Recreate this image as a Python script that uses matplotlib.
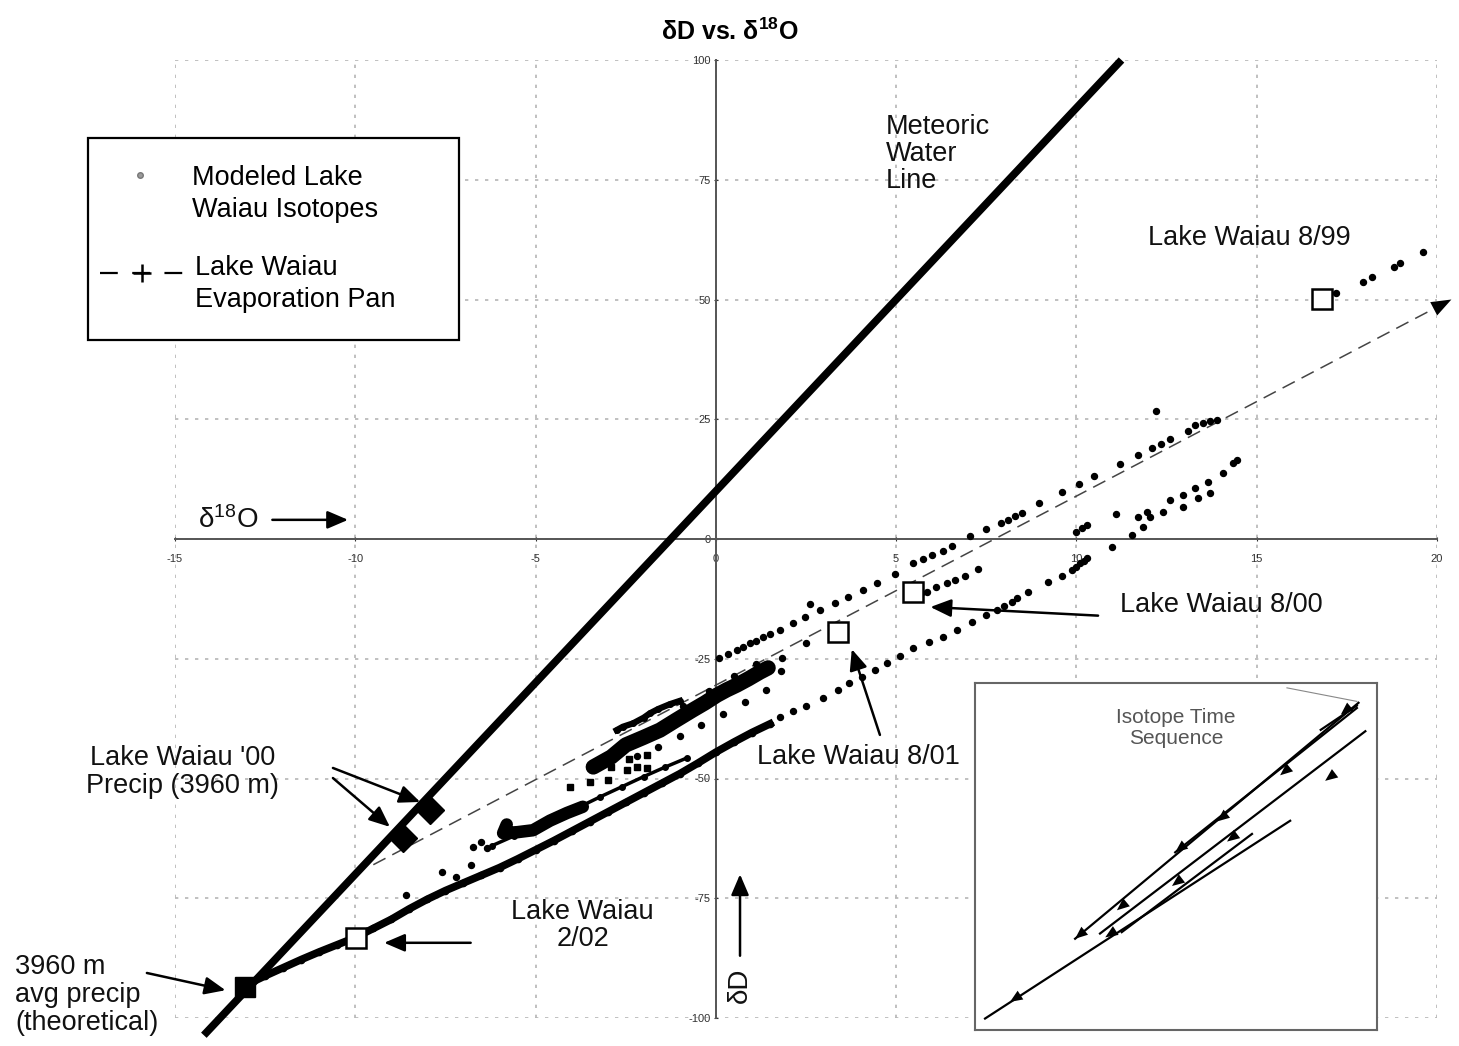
import matplotlib
matplotlib.use('Agg')
import matplotlib.pyplot as plt
from matplotlib.lines import Line2D
from matplotlib.patches import Rectangle

plt.rcParams['font.family'] = ['Liberation Sans', 'DejaVu Sans']
plt.rcParams['mathtext.fontset'] = 'custom'
plt.rcParams['mathtext.rm'] = 'Liberation Sans'
plt.rcParams['mathtext.bf'] = 'Liberation Sans:bold'
plt.rcParams['mathtext.default'] = 'regular'

# ---- data ----
x_ticks = [-15, -10, -5, 0, 5, 10, 15, 20]
y_ticks = [-100, -75, -50, -25, 0, 25, 50, 75, 100]

# meteoric water line (dD = 8 d18O + 10)
mwl_x = [-14.2, 11.25]
mwl_y = [-103.6, 100.0]

# evaporation pan trend
pan_x = [-9.5, 20.4]
pan_y = [-68.0, 50.0]

# modeled lake isotopes - dense lower track
lower_x = [-13.0, -12.5, -12.0, -11.5, -11.0, -10.5, -10.0, -9.5, -9.0, -8.5, -8.0, -7.5,
           -7.0, -6.5, -6.0, -5.5, -5.0, -4.5, -4.0, -3.5, -3.0, -2.5, -2.0, -1.5, -1.0,
           -0.5, 0.0, 0.5, 1.0, 1.5]
lower_y = [-93.0, -91.2, -89.5, -87.8, -86.2, -84.7, -83.2, -81.3, -79.4, -77.2, -75.2, -73.4,
           -71.8, -70.2, -68.6, -66.8, -64.9, -63.0, -61.0, -59.0, -57.0, -55.0, -53.0, -51.0,
           -49.0, -46.8, -44.5, -42.4, -40.4, -38.6]

# dotted row running just above the lower track
lower2_x = [-6.2, -5.6, -5.0, -4.4, -3.8, -3.2, -2.6, -2.0, -1.4, -0.8]
lower2_y = [-64.0, -62.0, -60.3, -58.2, -56.0, -53.8, -51.7, -49.6, -47.6, -45.7]

# sparse continuation of the lower track
tail_x = [1.78, 2.15, 2.5, 2.97, 3.38, 3.7, 4.05, 4.4, 4.75, 5.1, 5.46, 5.9, 6.3, 6.7, 7.1,
          7.5, 7.8, 8.0, 8.2, 8.35, 8.65, 9.2, 9.6, 9.87, 10.0, 10.1, 10.2, 10.3, 11.0,
          11.54, 11.85, 12.04, 12.4, 12.95, 13.37, 13.7,
          11.7, 11.95, 12.6, 12.95, 13.3, 13.65, 14.06, 14.34, 14.45]
tail_y = [-37.2, -36.0, -34.9, -33.2, -31.5, -30.1, -28.8, -27.3, -25.9, -24.4, -22.8, -21.5,
          -20.4, -19.0, -17.3, -15.9, -14.8, -14.0, -13.2, -12.3, -11.0, -9.0, -7.8, -6.5,
          -5.8, -5.0, -4.6, -4.0, -1.7,
          0.8, 2.5, 4.6, 5.6, 6.7, 8.5, 9.6,
          4.6, 5.6, 8.1, 9.2, 10.6, 11.9, 13.8, 15.9, 16.5]

# small group just above the x axis near 10
near10_x = [10.0, 10.15, 10.3, 11.1]
near10_y = [1.5, 2.2, 2.9, 5.2]

# upper track
upper_x = [0.1, 0.35, 0.58, 0.75, 0.94, 1.1, 1.3, 1.5, 1.77, 2.14, 2.47, 2.6, 2.9, 3.3, 3.66,
           4.08, 4.47, 4.97, 5.47, 5.75, 6.0, 6.3, 6.55, 7.05, 7.5, 7.9, 8.1, 8.3, 8.5, 8.96,
           9.6, 10.07, 10.5, 11.2, 11.7, 12.1, 12.2, 12.35, 12.6, 13.1, 13.3, 13.5, 13.7, 13.9]
upper_y = [-24.8, -24.0, -23.2, -22.5, -21.7, -21.2, -20.4, -19.8, -19.0, -17.6, -16.3, -13.6,
           -14.8, -13.4, -12.1, -10.6, -9.2, -7.3, -5.1, -4.2, -3.3, -2.5, -1.5, 0.6, 2.1,
           3.3, 4.0, 4.7, 5.4, 7.5, 9.8, 11.5, 13.2, 15.7, 17.5, 19.0, 26.7, 19.8, 20.9, 22.5,
           23.8, 24.2, 24.6, 24.8]

# short track under the evaporation line
mid_x = [1.83, 2.5, 5.7, 5.85, 6.1, 6.4, 6.63, 6.9, 7.27]
mid_y = [-24.8, -21.7, -11.3, -11.0, -10.0, -9.2, -8.6, -7.7, -6.3]

# 8/99 group
top_x = [17.2, 17.95, 18.2, 18.8, 18.97, 19.6]
top_y = [51.4, 53.7, 54.7, 56.8, 57.6, 59.9]

# scattered dots on the left
left_x = [-8.6, -7.6, -6.8, -6.74, -6.5, -6.35, -7.2]
left_y = [-74.3, -69.5, -68.0, -64.3, -63.2, -64.5, -70.5]

# central dense band
band_x = [-3.4, -2.9, -2.5, -2.0, -1.55, -1.1, -0.64, -0.3, 0.03, 0.3, 0.58, 0.9, 1.22, 1.45]
band_y = [-47.6, -45.5, -43.0, -41.4, -39.9, -37.8, -35.7, -34.2, -32.6, -31.5, -30.5, -29.2,
          -27.8, -26.9]

# loose dots around the band
around_x = [-2.2, -1.6, -1.0, -0.4, 0.2, 0.8, 1.4, 1.8, -0.9, -0.2, 0.5, 1.1]
around_y = [-45.3, -43.4, -41.2, -38.8, -36.5, -34.0, -31.6, -27.5, -34.8, -31.8, -28.6, -26.0]

# streak above the band
streak_x = [-2.75, -2.58, -2.3, -2.0, -1.83, -1.6, -1.28, -1.0]
streak_y = [-39.9, -39.2, -38.5, -37.3, -36.4, -35.5, -34.5, -33.8]

# curved blob further down
blob_x = [-5.8, -5.9, -5.5, -5.07, -4.6, -4.13, -3.69]
blob_y = [-59.6, -61.4, -61.2, -60.8, -58.8, -57.2, -55.9]

# dashes between blob and band
dash_x = [-4.05, -3.5, -3.0, -2.47, -2.2, -1.9, -1.9, -2.9, -2.4]
dash_y = [-51.8, -50.7, -50.3, -48.2, -47.6, -47.8, -45.1, -47.5, -46.0]

# sampled lake values (open squares)
lake_x = [-9.98, 3.38, 5.46, 16.8]
lake_y = [-83.3, -19.4, -11.1, 50.1]

# precipitation points
theo_x = [-13.06]
theo_y = [-93.5]
precip00_x = [-8.68, -7.93]
precip00_y = [-62.4, -56.6]

# inset: isotope time sequence (inset units 0-100)
seq_x = [[2.5, 78.4], [24.9, 95.4], [31.1, 97.1], [49.8, 95.0], [36.5, 68.9], [86.0, 95.0]]
seq_y = [[3.3, 60.3], [26.3, 94.3], [27.8, 86.1], [51.2, 92.8], [28.2, 56.5], [86.5, 93.5]]
seq_arrow_x = [8.7, 32.4, 24.9, 35.3, 75.9, 49.0, 62.7, 87.1, 49.8, 60.2, 91.0]
seq_arrow_y = [8.1, 26.7, 26.3, 34.5, 73.4, 41.5, 54.3, 71.8, 51.2, 60.1, 90.9]
seq_arrow_line = [0, 0, 1, 1, 1, 2, 2, 2, 3, 3, 1]

W, H = 1459, 1046
fig = plt.figure(figsize=(W / 100, H / 100), dpi=100)
ax = fig.add_axes([175 / W, 1 - 1018 / H, 1262 / W, 958 / H])
ax.set_xlim(-15, 20)
ax.set_ylim(-100, 100)

for s in ['top', 'right']:
    ax.spines[s].set_visible(False)
ax.spines['left'].set_position(('data', 0))
ax.spines['bottom'].set_position(('data', 0))
for s in ['left', 'bottom']:
    ax.spines[s].set_color('#555555')
    ax.spines[s].set_linewidth(1.4)
ax.set_xticks(x_ticks)
ax.set_yticks(y_ticks)
ax.set_xticklabels([str(v) for v in x_ticks])
ax.set_yticklabels([str(v) for v in y_ticks])
ax.tick_params(labelsize=8, length=3, width=0.8, colors='#333333', direction='inout')
ax.tick_params(axis='x', pad=9)
ax.tick_params(axis='y', pad=2)
ax.grid(True, color='#b5b5b5', lw=1.2, ls=(0, (2, 4)))
ax.set_axisbelow(True)

# lines
ax.plot(mwl_x, mwl_y, color='black', lw=5.5, solid_capstyle='butt', clip_on=False, zorder=4)
ax.plot(pan_x, pan_y, color='#444444', lw=1.1, dashes=(9, 5), zorder=3)
ax.annotate('', xy=(pan_x[1], pan_y[1]), xytext=(pan_x[0], pan_y[0]),
            arrowprops=dict(arrowstyle='-|>,head_length=0.8,head_width=0.3', lw=0,
                            color='black', mutation_scale=18, shrinkA=0, shrinkB=0),
            annotation_clip=False, zorder=3)

# modeled isotopes
dot = dict(ls='none', marker='o', ms=4.3, color='black', zorder=5)
ax.plot(lower_x, lower_y, '-', color='black', lw=5.5, marker='o', ms=4.5, zorder=5)
ax.plot(lower2_x, lower2_y, '-', color='black', lw=2.5, marker='o', ms=4, zorder=5)
ax.plot(band_x, band_y, '-', color='black', lw=11, solid_capstyle='round', zorder=5)
ax.plot(around_x, around_y, **dot)
ax.plot(blob_x, blob_y, '-', color='black', lw=9, solid_capstyle='round', zorder=5)
ax.plot(streak_x, streak_y, '-', color='black', lw=4.5, marker='o', ms=4, zorder=5)
ax.plot(dash_x, dash_y, ls='none', marker='s', ms=4.5, color='black', zorder=5)
ax.plot(tail_x, tail_y, **dot)
ax.plot(near10_x, near10_y, **dot)
ax.plot(upper_x, upper_y, **dot)
ax.plot(mid_x, mid_y, **dot)
ax.plot(top_x, top_y, **dot)
ax.plot(left_x, left_y, **dot)

# sample points
ax.plot(lake_x, lake_y, 's', ms=15, mfc='white', mec='black', mew=1.8, zorder=7)
ax.plot(theo_x, theo_y, 's', ms=15, color='black', zorder=7)
ax.plot(precip00_x, precip00_y, 'D', ms=14, color='black', zorder=7)

# annotations
txt = dict(fontsize=19.5, color='#111111')
arr = dict(arrowstyle='-|>,head_length=0.7,head_width=0.3', lw=1.8, color='black',
           mutation_scale=18, shrinkA=0, shrinkB=0)
ax.text(4.71, 80.4, 'Meteoric\nWater\nLine', ha='left', va='center', linespacing=1.05, **txt)
ax.text(11.98, 62.8, 'Lake Waiau 8/99', ha='left', va='center', **txt)
ax.text(11.2, -13.8, 'Lake Waiau 8/00', ha='left', va='center', **txt)
ax.annotate('', xy=(5.95, -14.2), xytext=(10.6, -16.0), arrowprops=arr)
ax.text(1.14, -45.5, 'Lake Waiau 8/01', ha='left', va='center', **txt)
ax.annotate('', xy=(3.77, -23.0), xytext=(4.55, -40.9), arrowprops=arr)
ax.text(-3.69, -80.6, 'Lake Waiau\n2/02', ha='center', va='center', linespacing=1.05, **txt)
ax.annotate('', xy=(-9.2, -84.3), xytext=(-6.8, -84.3), arrowprops=arr)
ax.text(-14.78, -48.6, "Lake Waiau '00\nPrecip (3960 m)", ha='center', va='center',
        linespacing=1.1, clip_on=False, **txt)
ax.annotate('', xy=(-8.2, -54.9), xytext=(-10.62, -47.8), arrowprops=arr)
ax.annotate('', xy=(-9.04, -60.1), xytext=(-10.62, -49.9), arrowprops=arr)
ax.text(-19.44, -95.2, '3960 m\navg precip\n(theoretical)', ha='left', va='center',
        linespacing=1.1, clip_on=False, **txt)
ax.annotate('', xy=(-13.6, -94.2), xytext=(-15.78, -90.6), arrowprops=arr,
            annotation_clip=False)
ax.text(-14.36, 4.0, 'δ$^{18}$O', ha='left', va='center', fontsize=20, color='#111111')
ax.annotate('', xy=(-10.2, 4.0), xytext=(-12.3, 4.0), arrowprops=arr)
ax.text(0.67, -93.1, 'δD', ha='center', va='center', rotation=90, fontsize=20, color='#111111')
ax.annotate('', xy=(0.67, -70.0), xytext=(0.67, -87.0), arrowprops=arr)

fig.text(0.5, 1 - 32 / H, 'δD vs. δ$^{\\mathbf{18}}$O', ha='center', va='center',
         fontsize=18, fontweight='bold')

# legend box
fig.add_artist(Rectangle((88 / W, 1 - 340 / H), 371 / W, 202 / H, transform=fig.transFigure,
                         facecolor='white', edgecolor='black', lw=1.6, zorder=10))
fig.add_artist(Line2D([140 / W], [1 - 175 / H], marker='o', ms=4, mfc='#9a9a9a', mec='#777777',
                      transform=fig.transFigure, zorder=11))
fig.text(192 / W, 1 - 194 / H, 'Modeled Lake\nWaiau Isotopes', ha='left', va='center',
         fontsize=19.5, linespacing=1.3, zorder=11)
fig.add_artist(Line2D([100 / W, 185 / W], [1 - 273 / H, 1 - 273 / H], color='black', lw=1.6,
                      dashes=(8, 6.5), transform=fig.transFigure, zorder=11))
fig.add_artist(Line2D([142 / W], [1 - 273 / H], marker='+', ms=13, mew=1.8, color='black',
                      transform=fig.transFigure, zorder=11))
fig.text(195 / W, 1 - 284 / H, 'Lake Waiau\nEvaporation Pan', ha='left', va='center',
         fontsize=19.5, linespacing=1.3, zorder=11)

# inset: isotope time sequence
axi = fig.add_axes([975 / W, 1 - 1030 / H, 402 / W, 347 / H], zorder=12)
axi.set_xlim(0, 100)
axi.set_ylim(0, 100)
axi.set_xticks([])
axi.set_yticks([])
for s in axi.spines.values():
    s.set_color('#666666')
    s.set_linewidth(1.5)
for xs, ys in zip(seq_x, seq_y):
    axi.plot(xs, ys, color='black', lw=1.6)
head = dict(arrowstyle='-|>,head_length=0.6,head_width=0.25', lw=0, color='black',
            mutation_scale=15, shrinkA=0, shrinkB=0)
for ax_, ay_, k in zip(seq_arrow_x, seq_arrow_y, seq_arrow_line):
    dx = seq_x[k][1] - seq_x[k][0]
    dy = seq_y[k][1] - seq_y[k][0]
    axi.annotate('', xy=(ax_, ay_), xytext=(ax_ + 0.05 * dx, ay_ + 0.05 * dy), arrowprops=head)
axi.plot([77.6, 95.0], [98.6, 94.7], color='#888888', lw=0.8)
axi.text(50, 87, 'Isotope Time\nSequence', ha='center', va='center', fontsize=15,
         color='#555555', linespacing=1.15)

fig.savefig('out.png', dpi=100)
